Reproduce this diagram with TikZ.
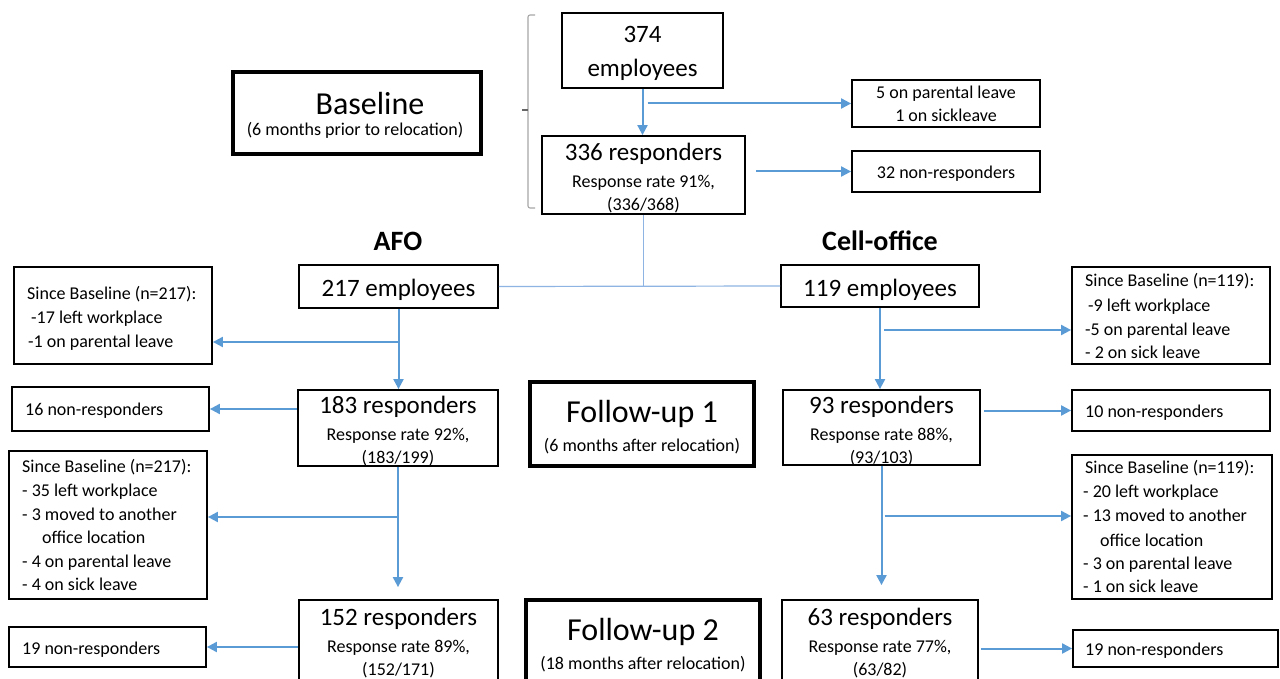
\documentclass[tikz,border=0pt]{standalone}
\usepackage{fontspec}
\setmainfont{Carlito}
\usetikzlibrary{arrows.meta,calc}
\definecolor{arrblue}{HTML}{5B9BD5}
\definecolor{linkblue}{HTML}{8DB4E2}
\definecolor{brgray}{HTML}{A6A6A6}
\newcommand\LT[4]{\node[small,anchor=base west] (#1) at (#2,#3) {#4};}
\newcommand\CT[5]{\node[#5,anchor=base] (#1) at (#2,#3) {#4};}
\newcommand\BX[6]{\node[#6,minimum width=#4pt,minimum height=#5pt] (#1) at (#2,#3) {};}
\begin{document}
\begin{tikzpicture}[x=1pt,y=-1pt,
  box/.style={draw=black,line width=1.8pt,inner sep=0pt},
  thickbox/.style={draw=black,line width=3.8pt,inner sep=0pt},
  big/.style={font=\fontsize{25}{30}\selectfont,inner sep=0pt},
  small/.style={font=\fontsize{18}{22}\selectfont,inner sep=0pt},
  head/.style={font=\fontsize{32}{38}\selectfont,inner sep=0pt},
  bhead/.style={font=\fontsize{28}{34}\selectfont\bfseries,inner sep=0pt},
  arr/.style={draw=arrblue,line width=2pt,-{Triangle[length=10pt,width=10pt]}},
  link/.style={draw=linkblue,line width=1.2pt},
]
\clip (0,0) rectangle (1280,679);
\fill[white] (0,0) rectangle (1280,679);

% ---------- boxes ----------
\BX{e374}{642.5}{50.5}{161}{75}{box}
\BX{r336}{643.5}{175}{203}{78}{box}
\BX{base}{357}{113}{248}{82}{thickbox}
\BX{p5}{946}{103.5}{188}{47}{box}
\BX{nr32}{946}{171.5}{188}{41}{box}
\BX{e217}{398.5}{286.5}{199}{43}{box}
\BX{e119}{880}{286}{198}{42}{box}
\BX{sbL1}{113}{315.5}{198}{97}{box}
\BX{sbR1}{1171}{315.5}{198}{97}{box}
\BX{nr16}{110.5}{409}{197}{44}{box}
\BX{r183}{398}{428}{200}{76}{box}
\BX{fu1}{642}{424}{224}{84}{thickbox}
\BX{r93}{881.5}{427.5}{197}{75}{box}
\BX{nr10}{1171}{410.5}{198}{41}{box}
\BX{sbL2}{108}{525}{198}{148}{box}
\BX{sbR2}{1172}{527}{200}{144}{box}
\BX{r152}{398.5}{650}{199}{100}{box}
\BX{fu2}{643}{650}{234}{100}{thickbox}
\BX{r63}{880}{650}{196}{100}{box}
\BX{nr19L}{107.5}{647}{197}{40}{box}
\BX{nr19R}{1175.5}{648.5}{205}{37}{box}

% ---------- bracket ----------
\draw[brgray,line width=1.1pt,rounded corners=2pt] (535,15) -- (528,15) -- (528,208) -- (535,208);
\draw[black!60,line width=1.1pt] (528,110) -- (522,110);

% ---------- texts ----------
\CT{t374a}{642.5}{43}{374}{big}
\CT{t374b}{642.5}{77}{employees}{big}
\CT{t336a}{643.5}{161}{336 responders}{big}
\CT{t336b}{643.5}{188}{Response rate 91\%,}{small}
\CT{t336c}{643.5}{211}{(336/368)}{small}
\CT{tbase}{370}{115}{Baseline}{head}
\CT{tbaseb}{355}{136}{(6 months prior to relocation)}{small}
\CT{tp5a}{946}{99}{5 on parental leave}{small}
\CT{tp5b}{946}{122}{1 on sickleave}{small}
\CT{tnr32}{946}{179}{32 non-responders}{small}
\CT{tafo}{398}{251}{AFO}{bhead}
\CT{tcell}{880}{251}{Cell-office}{bhead}
\CT{t217}{398.5}{296}{217 employees}{big}
\CT{t119}{880}{296}{119 employees}{big}

\LT{sl1a}{27}{299}{Since Baseline (n=217):}
\LT{sl1b}{31}{323}{-17 left workplace}
\LT{sl1c}{28}{347}{-1 on parental leave}
\LT{tnr16}{25}{415}{16 non-responders}

\CT{t183a}{398}{413}{183 responders}{big}
\CT{t183b}{398}{440}{Response rate 92\%,}{small}
\CT{t183c}{398}{463}{(183/199)}{small}
\CT{tfu1a}{642}{422}{Follow-up 1}{head}
\CT{tfu1b}{642}{451}{(6 months after relocation)}{small}
\CT{t93a}{881.5}{413}{93 responders}{big}
\CT{t93b}{881.5}{440}{Response rate 88\%,}{small}
\CT{t93c}{881.5}{463}{(93/103)}{small}

\LT{sr1a}{1085}{287}{Since Baseline (n=119):}
\LT{sr1b}{1088}{311}{-9 left workplace}
\LT{sr1c}{1085}{335}{-5 on parental leave}
\LT{sr1d}{1085}{358}{- 2 on sick leave}
\LT{tnr10}{1085}{417}{10 non-responders}

\LT{sl2a}{22}{472}{Since Baseline (n=217):}
\LT{sl2b}{22}{496}{- 35 left workplace}
\LT{sl2c}{22}{520}{- 3 moved to another}
\LT{sl2d}{42}{543}{office location}
\LT{sl2e}{22}{567}{- 4 on parental leave}
\LT{sl2f}{22}{590}{- 4 on sick leave}
\LT{tnr19L}{22}{654}{19 non-responders}

\LT{sr2a}{1085}{473}{Since Baseline (n=119):}
\LT{sr2b}{1083}{497}{- 20 left workplace}
\LT{sr2c}{1083}{521}{- 13 moved to another}
\LT{sr2d}{1100}{546}{office location}
\LT{sr2e}{1083}{569}{- 3 on parental leave}
\LT{sr2f}{1083}{592}{- 1 on sick leave}
\LT{tnr19R}{1085}{655}{19 non-responders}

\CT{t152a}{398.5}{625}{152 responders}{big}
\CT{t152b}{398.5}{652}{Response rate 89\%,}{small}
\CT{t152c}{398.5}{675}{(152/171)}{small}
\CT{tfu2a}{643}{640}{Follow-up 2}{head}
\CT{tfu2b}{643}{669}{(18 months after relocation)}{small}
\CT{t63a}{880}{625}{63 responders}{big}
\CT{t63b}{880}{652}{Response rate 77\%,}{small}
\CT{t63c}{880}{675}{(63/82)}{small}

% ---------- connectors ----------
\draw[arr] (e374.south) -- (e374.south |- r336.north);
\draw[arr] ($(e374.south |- p5.west)+(5,0)$) -- (p5.west);
\draw[arr] ($(r336.east |- nr32.west)+(10,0)$) -- (nr32.west);
\draw[link] (r336.south) -- (r336.south |- 0,285.5);
\draw[link] (e217.east) -- (e119.west);

\draw[arr] (e217.south) -- (e217.south |- r183.north);
\draw[arr] (e217.south |- 0,342) -- (sbL1.east |- 0,342);
\draw[arr] (r183.west |- nr16.east) -- (nr16.east);
\draw[arr,shorten >=12pt] (r183.south) -- (r183.south |- r152.north);
\draw[arr] (r183.south |- 0,517) -- (sbL2.east |- 0,517);
\draw[arr] (r152.west |- nr19L.east) -- (nr19L.east);

\draw[arr] (e119.south) -- (e119.south |- r93.north);
\draw[arr] ($(e119.south |- 0,330)+(4,0)$) -- (sbR1.west |- 0,330);
\draw[arr] ($(r93.east |- nr10.west)+(3,0)$) -- (nr10.west);
\draw[arr,shorten >=14pt] (r93.south) -- (r93.south |- r63.north);
\draw[arr] ($(r93.south |- 0,516)+(3,0)$) -- (sbR2.west |- 0,516);
\draw[arr] ($(r63.east |- nr19R.west)+(2,0)$) -- (nr19R.west);
\end{tikzpicture}
\end{document}
